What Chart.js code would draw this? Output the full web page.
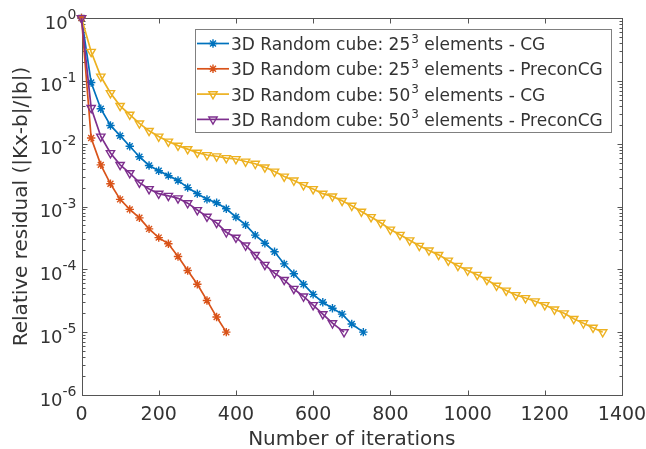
<!DOCTYPE html>
<html>
<head>
<meta charset="utf-8">
<script src="https://cdn.jsdelivr.net/npm/chart.js@4.4.1/dist/chart.umd.min.js"></script>
<style>
  html, body { margin: 0; padding: 0; background: #ffffff; }
  #wrap { width: 646px; height: 449px; }
</style>
</head>
<body>
<div id="wrap"><canvas id="c" width="646" height="449"></canvas></div>
<script>
// residual history, one marker every 25 iterations
const itersCg25 = [0, 25, 50, 75, 100, 125, 150, 175, 200, 225, 250, 275, 300, 325, 350,
    375, 400, 425, 450, 475, 500, 525, 550, 575, 600, 625, 650, 675, 700, 730];
const resCg25 = [1, 0.094, 0.036, 0.0195, 0.0134, 0.0091, 0.0062, 0.0045, 0.0037, 0.0031,
    0.0026, 0.0020, 0.0016, 0.0013, 0.00115, 0.00092, 0.00068, 0.00051, 3.5e-4, 2.6e-4,
    1.9e-4, 1.22e-4, 8.5e-5, 5.8e-5, 4.0e-5, 3.0e-5, 2.4e-5, 1.94e-5, 1.35e-5, 1.0e-5];

const itersPcg25 = [0, 25, 50, 75, 100, 125, 150, 175, 200, 225, 250, 275, 300, 325, 350, 375];
const resPcg25 = [1, 0.0123, 0.0046, 0.0023, 0.0013, 9.0e-4, 6.6e-4, 4.4e-4, 3.2e-4, 2.55e-4,
    1.6e-4, 9.6e-5, 5.8e-5, 3.2e-5, 1.74e-5, 1.0e-5];

const itersCg50 = [0, 25, 50, 75, 100, 125, 150, 175, 200, 225, 250, 275, 300, 325, 350,
    375, 400, 425, 450, 475, 500, 525, 550, 575, 600, 625, 650, 675, 700, 725, 750, 775,
    800, 825, 850, 875, 900, 925, 950, 975, 1000, 1025, 1050, 1075, 1100, 1125, 1150,
    1175, 1200, 1225, 1250, 1275, 1300, 1325, 1350];
const resCg50 = [1, 0.29, 0.117, 0.064, 0.040, 0.029, 0.021, 0.016, 0.013, 0.0108, 0.0093,
    0.0082, 0.0072, 0.0066, 0.0063, 0.0059, 0.0057, 0.0052, 0.0048, 0.0042, 0.0036, 0.0030,
    0.0026, 0.0022, 0.0019, 0.0016, 0.00145, 0.00123, 0.00103, 8.3e-4, 6.8e-4, 5.5e-4,
    4.3e-4, 3.55e-4, 2.9e-4, 2.37e-4, 2.0e-4, 1.7e-4, 1.38e-4, 1.14e-4, 9.6e-5, 8.2e-5,
    6.8e-5, 5.5e-5, 4.6e-5, 3.9e-5, 3.5e-5, 3.1e-5, 2.7e-5, 2.3e-5, 2.0e-5, 1.63e-5,
    1.39e-5, 1.18e-5, 1.0e-5];

const itersPcg50 = [0, 25, 50, 75, 100, 125, 150, 175, 200, 225, 250, 275, 300, 325, 350,
    375, 400, 425, 450, 475, 500, 525, 550, 575, 600, 625, 650, 680];
const resPcg50 = [1, 0.037, 0.013, 0.0071, 0.0046, 0.0034, 0.0024, 0.0019, 0.0016, 0.00148,
    0.00135, 0.00113, 8.8e-4, 6.9e-4, 5.5e-4, 3.9e-4, 3.2e-4, 2.4e-4, 1.7e-4, 1.18e-4,
    8.7e-5, 6.8e-5, 4.9e-5, 3.7e-5, 2.7e-5, 1.94e-5, 1.39e-5, 1.0e-5];

const meshSizes = ["25", "25", "50", "50"];
const solverNames = ["CG", "PreconCG", "CG", "PreconCG"];
const xTickValues = [0, 200, 400, 600, 800, 1000, 1200, 1400];
const yDecades = [-6, -5, -4, -3, -2, -1, 0];
const xTitle = "Number of iterations";
const yTitle = "Relative residual (|Kx-b|/|b|)";

const FONT = '"DejaVu Sans", "Noto Sans", sans-serif';
const TEXT = "#333333";
const AXIS = "#555555";

function pairs(xs, ys) {
    return xs.map((x, i) => ({ x: x, y: ys[i] }));
}

function series(i, xs, ys, color, style) {
    return {
        label: "3D Random cube: " + meshSizes[i] + "\u00B3 elements - " + solverNames[i],
        data: pairs(xs, ys),
        borderColor: color,
        backgroundColor: "rgba(0,0,0,0)",
        borderWidth: 1.7,
        pointStyle: style,
        pointRotation: style === "triangle" ? 180 : 0,
        pointRadius: style === "triangle" ? 4.8 : 4.2,
        pointBorderWidth: 1.4,
        pointBorderColor: color,
        pointBackgroundColor: "rgba(0,0,0,0)",
        tension: 0,
        clip: false,
        order: 3 - i,
    };
}

function drawMarker(ctx, ds, x, y) {
    ctx.strokeStyle = ds.borderColor;
    ctx.fillStyle = "rgba(0,0,0,0)";
    ctx.lineWidth = ds.pointBorderWidth;
    Chart.helpers.drawPoint(ctx, {
        pointStyle: ds.pointStyle,
        rotation: ds.pointRotation,
        radius: ds.pointRadius,
        borderWidth: ds.pointBorderWidth,
    }, x, y);
}

// box, inward ticks, labels and legend in the look of a MATLAB figure
const matlabAxes = {
    id: "matlabAxes",
    beforeDatasetsDraw(chart) {
        const ctx = chart.ctx;
        const a = chart.chartArea;
        const xs = chart.scales.x, ys = chart.scales.y;
        const L = Math.round(a.left) + 0.5, R = Math.round(a.right) + 0.5;
        const T = Math.round(a.top) + 0.5, B = Math.round(a.bottom) + 0.5;
        ctx.save();
        ctx.strokeStyle = AXIS;
        ctx.lineWidth = 1;
        ctx.strokeRect(L, T, R - L, B - T);
        ctx.beginPath();
        xTickValues.forEach(v => {
            const px = Math.round(xs.getPixelForValue(v)) + 0.5;
            ctx.moveTo(px, B); ctx.lineTo(px, B - 5);
            ctx.moveTo(px, T); ctx.lineTo(px, T + 5);
        });
        yDecades.forEach(e => {
            const py = Math.round(ys.getPixelForValue(Math.pow(10, e))) + 0.5;
            ctx.moveTo(L, py); ctx.lineTo(L + 5, py);
            ctx.moveTo(R, py); ctx.lineTo(R - 5, py);
            if (e < 0) {
                for (let m = 2; m <= 9; m++) {
                    const my = Math.round(ys.getPixelForValue(m * Math.pow(10, e))) + 0.5;
                    ctx.moveTo(L, my); ctx.lineTo(L + 3, my);
                    ctx.moveTo(R, my); ctx.lineTo(R - 3, my);
                }
            }
        });
        ctx.stroke();

        // tick labels
        ctx.fillStyle = TEXT;
        ctx.textBaseline = "alphabetic";
        ctx.textAlign = "center";
        ctx.font = "19px " + FONT;
        xTickValues.forEach(v => {
            ctx.fillText(String(v), xs.getPixelForValue(v), a.bottom + 25);
        });
        ctx.textAlign = "left";
        yDecades.forEach(e => {
            const py = ys.getPixelForValue(Math.pow(10, e));
            const ex = String(e);
            ctx.font = "14px " + FONT;
            const ew = ctx.measureText(ex).width;
            ctx.font = "18px " + FONT;
            const bw = ctx.measureText("10").width;
            const right = a.left - 5;
            ctx.fillText("10", right - ew - bw, py + 10.5);
            ctx.font = "14px " + FONT;
            ctx.fillText(ex, right - ew, py + 1);
        });

        // axis titles
        ctx.font = "20px " + FONT;
        ctx.textAlign = "center";
        ctx.fillText(xTitle, (a.left + a.right) / 2, 445);
        ctx.save();
        ctx.translate(27, (a.top + a.bottom) / 2);
        ctx.rotate(-Math.PI / 2);
        ctx.fillText(yTitle, 0, 0);
        ctx.restore();
        ctx.restore();
    },
    afterDatasetsDraw(chart) {
        const ctx = chart.ctx;
        const box = { x: 195.5, y: 29.5, w: 416, h: 103 };
        ctx.save();
        ctx.fillStyle = "#ffffff";
        ctx.fillRect(box.x, box.y, box.w, box.h);
        ctx.strokeStyle = "#808080";
        ctx.lineWidth = 1;
        ctx.strokeRect(box.x, box.y, box.w, box.h);
        chart.data.datasets.forEach((ds, i) => {
            const cy = 43.5 + i * 25.3;
            ctx.strokeStyle = ds.borderColor;
            ctx.lineWidth = ds.borderWidth;
            ctx.beginPath();
            ctx.moveTo(197, cy); ctx.lineTo(229, cy);
            ctx.stroke();
            drawMarker(ctx, ds, 213, cy);
            ctx.fillStyle = TEXT;
            ctx.textAlign = "left";
            ctx.textBaseline = "alphabetic";
            let x = 231;
            const head = "3D Random cube: " + meshSizes[i];
            ctx.font = "17px " + FONT;
            ctx.fillText(head, x, cy + 6.5);
            x += ctx.measureText(head).width + 1;
            ctx.font = "12px " + FONT;
            ctx.fillText("3", x, cy - 1);
            x += ctx.measureText("3").width;
            ctx.font = "17px " + FONT;
            ctx.fillText(" elements - " + solverNames[i], x, cy + 6.5);
        });
        ctx.restore();
    },
};

new Chart(document.getElementById("c"), {
    type: "line",
    data: {
        datasets: [
            series(0, itersCg25, resCg25, "#0072BD", "star"),
            series(1, itersPcg25, resPcg25, "#D95319", "star"),
            series(2, itersCg50, resCg50, "#EDB120", "triangle"),
            series(3, itersPcg50, resPcg50, "#7E2F8E", "triangle"),
        ],
    },
    options: {
        responsive: false,
        animation: false,
        events: [],
        layout: { padding: { top: 18, right: 24, left: 0, bottom: 0 } },
        plugins: {
            legend: { display: false },
            tooltip: { enabled: false },
        },
        scales: {
            x: {
                type: "linear",
                min: 0,
                max: 1400,
                grid: { display: false },
                border: { display: false },
                ticks: { display: false },
                afterFit(scale) { scale.height = 54; },
            },
            y: {
                type: "logarithmic",
                min: 1e-6,
                max: 1,
                grid: { display: false },
                border: { display: false },
                ticks: { display: false },
                afterFit(scale) { scale.width = 81.5; },
            },
        },
    },
    plugins: [matlabAxes],
});
</script>
</body>
</html>
